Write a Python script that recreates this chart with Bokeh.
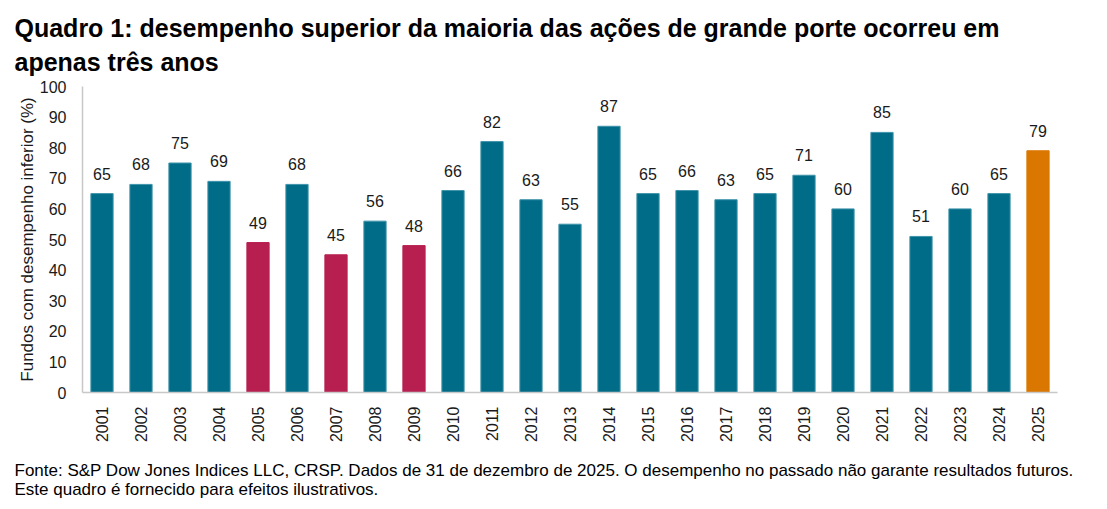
import math
from bokeh.plotting import figure
from bokeh.models import ColumnDataSource, LabelSet, FactorRange, Title
from bokeh.core.properties import value
from bokeh.embed import file_html
from bokeh.resources import INLINE

# Share of large-cap funds underperforming, by year
years = [str(y) for y in range(2001, 2026)]
values = [65, 68, 75, 69, 49, 68, 45, 56, 48, 66, 82, 63, 55, 87,
          65, 66, 63, 65, 71, 60, 85, 51, 60, 65, 79]
highlight_years = ["2005", "2007", "2009"]
current_year = "2025"

TEAL = "#006C87"
CRIMSON = "#B71F50"
ORANGE = "#DA7700"
FONT = "Liberation Sans"

colors = []
edges = []
for y in years:
    if y in highlight_years:
        colors.append(CRIMSON)
        edges.append(CRIMSON)
    elif y == current_year:
        colors.append(ORANGE)
        edges.append(ORANGE)
    else:
        colors.append(TEAL)
        edges.append("#3F94AB")

source = ColumnDataSource(dict(year=years, value=values, color=colors, edge=edges,
                               label=[str(v) for v in values]))

p = figure(x_range=FactorRange(*years), y_range=(0, 100),
           frame_width=975, frame_height=306,
           min_border_left=82, min_border_right=50,
           min_border_top=86, min_border_bottom=117,
           output_backend="svg", toolbar_location=None,
           background_fill_color="white", border_fill_color="white")
p.outline_line_color = None
p.grid.grid_line_color = None

p.vbar(x="year", top="value", width=0.57, source=source,
       fill_color="color", line_color="edge", line_width=1)

labels = LabelSet(x="year", y="value", text="label", source=source,
                  text_align="center", text_baseline="bottom", y_offset=14,
                  text_font=value(FONT), text_font_size=value("16px"),
                  text_color=value("#1a1a1a"))
p.add_layout(labels)

# Axes
p.yaxis.ticker = list(range(0, 101, 10))
p.yaxis.axis_label = "Fundos com desempenho inferior (%)"
p.yaxis.axis_label_text_font = FONT
p.yaxis.axis_label_text_font_style = "normal"
p.yaxis.axis_label_text_font_size = "17px"
p.yaxis.axis_label_text_color = "#1a1a1a"
p.yaxis.axis_label_standoff = 0
p.yaxis.major_label_text_font = FONT
p.yaxis.major_label_text_font_size = "16px"
p.yaxis.major_label_text_color = "#1a1a1a"
p.yaxis.major_label_standoff = 10
p.yaxis.major_tick_line_color = None
p.yaxis.minor_tick_line_color = None
p.yaxis.axis_line_color = "#C8C8C8"
p.yaxis.axis_line_width = 1.5

p.xaxis.major_label_orientation = math.pi / 2
p.xaxis.major_label_text_font = FONT
p.xaxis.major_label_text_font_size = "16px"
p.xaxis.major_label_text_color = "#1a1a1a"
p.xaxis.major_label_standoff = 8
p.xaxis.major_tick_line_color = None
p.xaxis.axis_line_color = "#C8C8C8"
p.xaxis.axis_line_width = 1.5

# Two-line title above the frame, two-line footnote below the axis
title_text = ("Quadro 1: desempenho superior da maioria das ações de grande porte ocorreu em\n"
              "apenas três anos")
note_text = ("Fonte: S&P Dow Jones Indices LLC, CRSP. Dados de 31 de dezembro de 2025. "
             "O desempenho no passado não garante resultados futuros.\n"
             "Este quadro é fornecido para efeitos ilustrativos.")

p.add_layout(Title(text=title_text, align="left", offset=-68, standoff=20,
                   vertical_align="bottom",
                   text_font=FONT, text_font_style="bold", text_line_height=1.22,
                   text_font_size="25px", text_color="#000000"), "above")

p.add_layout(Title(text=note_text, align="left", offset=-68, standoff=26,
                   vertical_align="bottom",
                   text_font=FONT, text_font_style="normal", text_line_height=1.03,
                   text_font_size="17px", text_color="#000000"), "below")

open("out.html", "w").write(file_html(p, INLINE))
